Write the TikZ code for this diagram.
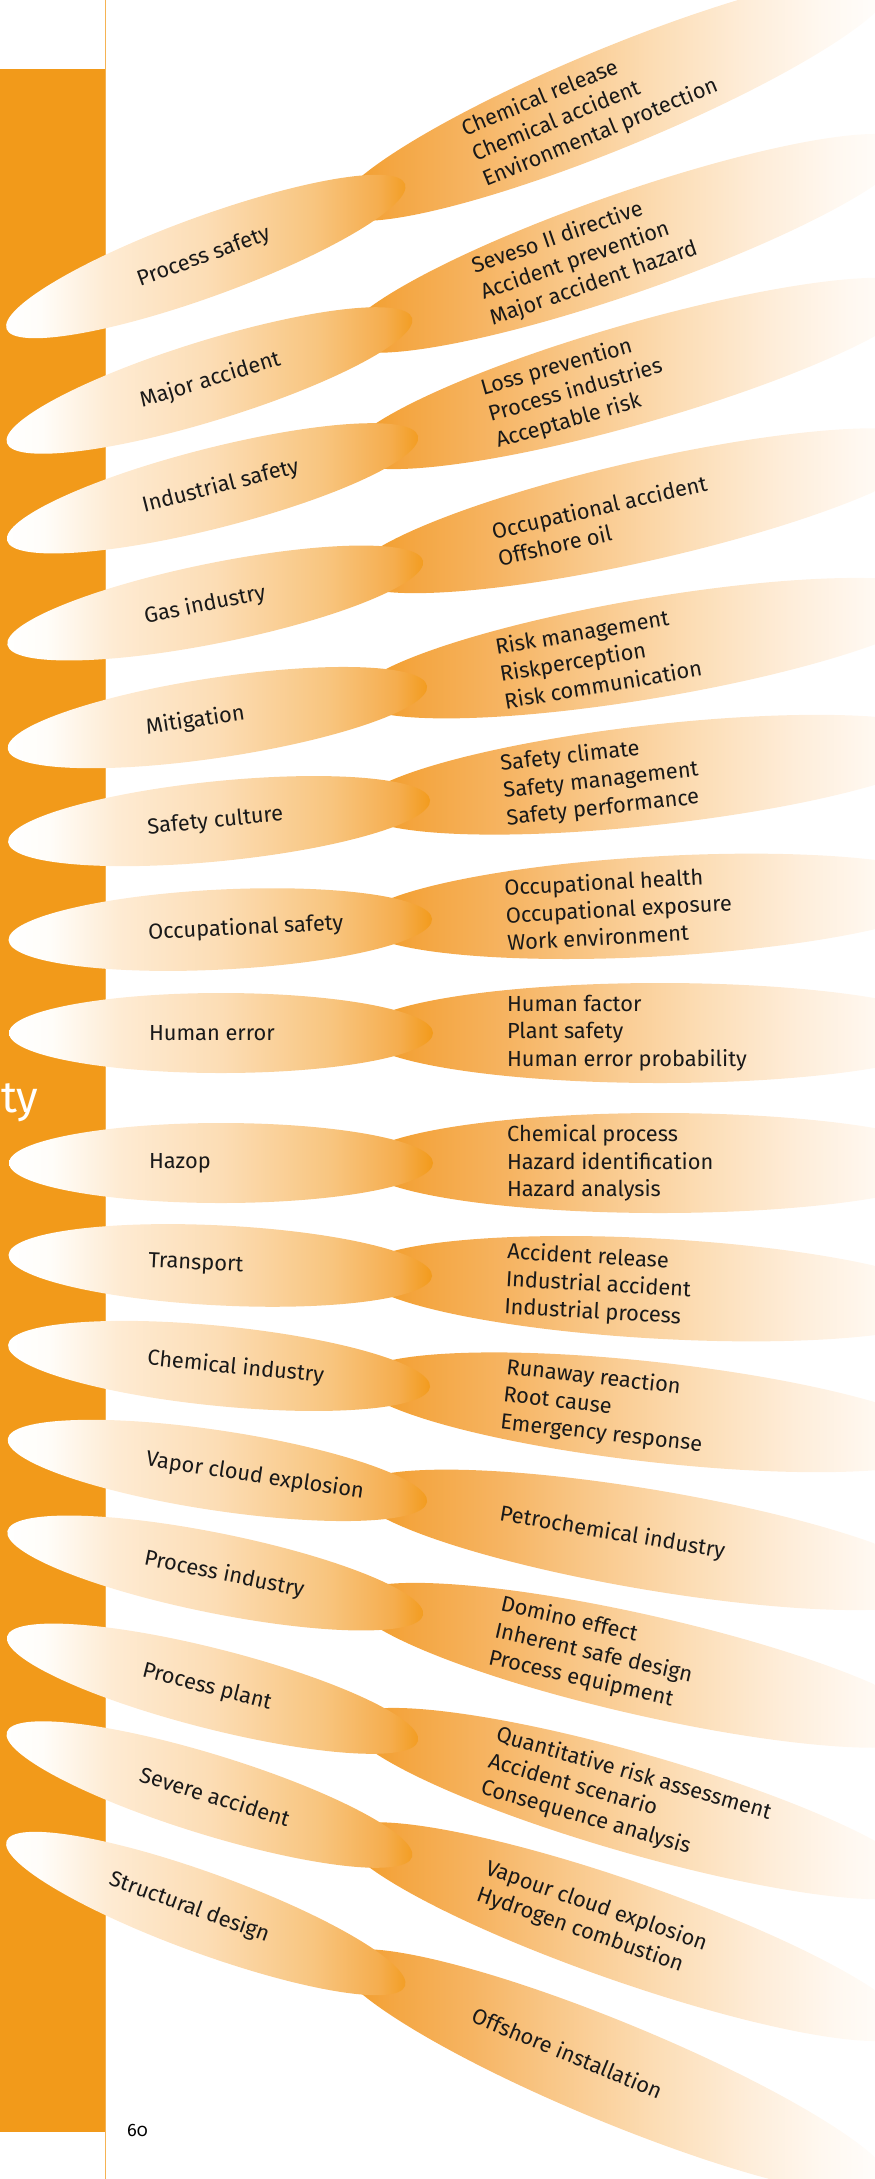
\documentclass[tikz,border=0pt]{standalone}
\usepackage{fontspec}
\setmainfont{Fira Sans}
\usetikzlibrary{shapes.geometric,calc}

\definecolor{barorange}{HTML}{F29A1A}
\definecolor{lbA}{HTML}{FFFDF9}
\definecolor{lbB}{HTML}{FEEBD3}
\definecolor{lbC}{HTML}{FCDDB5}
\definecolor{lbD}{HTML}{F8C57F}
\definecolor{lbE}{HTML}{F5AD4E}
\definecolor{rbA}{HTML}{F29A22}
\definecolor{rbB}{HTML}{F4A744}
\definecolor{rbC}{HTML}{F6B462}
\definecolor{rbD}{HTML}{F9C88A}
\definecolor{rbE}{HTML}{FCDDB5}
\definecolor{rbF}{HTML}{FEEDD9}
\definecolor{rbG}{HTML}{FFF8F0}

% white tip on the left, deep orange at the joint
\pgfdeclarehorizontalshading{leftblob}{100bp}{color(0bp)=(white); color(25bp)=(white);
  color(30bp)=(lbA); color(38bp)=(lbB); color(50bp)=(lbC); color(63bp)=(lbD);
  color(71bp)=(lbE); color(75bp)=(barorange); color(100bp)=(barorange)}
% orange at the joint, fading out to the right
\pgfdeclarehorizontalshading{rightblob}{100bp}{color(0bp)=(rbA); color(25bp)=(rbA);
  color(31bp)=(rbB); color(37.5bp)=(rbC); color(45bp)=(rbD); color(53.5bp)=(rbE);
  color(61.5bp)=(rbF); color(68bp)=(rbG); color(75bp)=(white); color(100bp)=(white)}

\tikzset{
  lblob/.style={ellipse, minimum width=424pt, minimum height=80pt, inner sep=0pt,
    outer sep=0pt, shade, shading=leftblob},
  rblob/.style={ellipse, minimum width=600pt, minimum height=100pt, inner sep=0pt,
    outer sep=0pt, shade, shading=rightblob},
  term/.style={font=\fontsize{21.8pt}{27.5pt}\selectfont, text=black!90, inner sep=0pt,
    outer sep=0pt, align=left}
}

\begin{document}
\begin{tikzpicture}[x=1pt,y=1pt]
      \useasboundingbox (0,0) rectangle (875,-2179);
      \clip (0,0) rectangle (875,-2179);
      % side bar
      \fill[barorange] (0,-69) rectangle (106,-2132);
      \draw[barorange!75, line width=1.2pt] (105.4,0) -- (105.4,-2179);
      \node[font=\fontsize{44pt}{44pt}\selectfont, text=white, anchor=base west, inner sep=0pt] (tail) at (1,-1112) {ty};
      % keyword pairs
      \foreach \i/\jx/\jy/\a/\lo/\lab/\items in {
        1/405/184/20/140pt/{Process safety}/{Chemical release\\Chemical accident\\Environmental protection},
        2/412/318/17.14/140pt/{Major accident}/{Seveso II directive\\Accident prevention\\Major accident hazard},
        3/418/436/14.29/140pt/{Industrial safety}/{Loss prevention\\Process industries\\Acceptable risk},
        4/423/561/11.43/140pt/{Gas industry}/{Occupational accident\\Offshore oil},
        5/427/686/8.57/140pt/{Mitigation}/{Risk management\\Riskperception\\Risk communication},
        6/430/800/5.71/140pt/{Safety culture}/{Safety climate\\Safety management\\Safety performance},
        7/432/919/2.86/140pt/{Occupational safety}/{Occupational health\\Occupational exposure\\Work environment},
        8/433/1033/0/140pt/{Human error}/{Human factor\\Plant safety\\Human error probability},
        9/433/1163/0/140pt/{Hazop}/{Chemical process\\Hazard identification\\Hazard analysis},
        10/432/1276/-2.86/140pt/{Transport}/{Accident release\\Industrial accident\\Industrial process},
        11/430/1387/-5.71/140pt/{Chemical industry}/{Runaway reaction\\Root cause\\Emergency response},
        12/427/1502/-8.57/140pt/{Vapor cloud explosion}/{Petrochemical industry},
        13/423/1615/-11.43/140pt/{Process industry}/{Domino effect\\Inherent safe design\\Process equipment},
        14/418/1741/-14.29/140pt/{Process plant}/{Quantitative risk assessment\\Accident scenario\\Consequence analysis},
        15/412/1857/-17.14/140pt/{Severe accident}/{Vapour cloud explosion\\Hydrogen combustion},
        16/405/1986/-20/110pt/{Structural design}/{Offshore installation}} {
        \pgfmathsetmacro{\b}{1.12*\a}
        \coordinate (J\i) at (\jx,-\jy);
        \node[rblob, rotate=\b, anchor=west] (R\i) at ([shift={({\b+180}:73)}]J\i) {};
        \node[lblob, rotate=\a, anchor=east] (L\i) at (J\i) {};
        \node[term, rotate=\a, anchor=west] (LT\i) at ($(L\i.west)!\lo!(L\i.east)$) {\lab};
        \node[term, rotate=\b, anchor=west] (RT\i) at ($(R\i.west)!147pt!(R\i.east)$) {\items};
      }
      \node[font=\fontsize{18pt}{18pt}\selectfont\addfontfeatures{Numbers=OldStyle}, anchor=base west, inner sep=0pt] (pagenum) at (127,-2136) {60};
\end{tikzpicture}
\end{document}
